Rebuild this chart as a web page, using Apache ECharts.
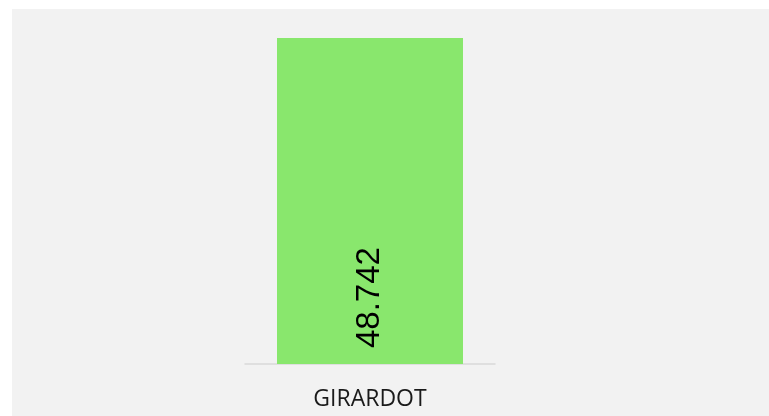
<!DOCTYPE html>
<html>
<head>
<meta charset="utf-8">
<script src="https://cdn.jsdelivr.net/npm/echarts@6/dist/echarts.min.js"></script>
<style>
  html, body { margin: 0; padding: 0; background: #ffffff; }
  #chart { width: 769px; height: 416px; }
</style>
</head>
<body>
<div id="chart"></div>
<script>
// Population by municipality (thousands)
const categories = ['GIRARDOT'];
const values = [48.742];

const chart = echarts.init(document.getElementById('chart'), null, { renderer: 'canvas' });

chart.setOption({
  backgroundColor: '#ffffff',
  animation: false,
  graphic: [{
    type: 'rect',
    z: -10,
    silent: true,
    shape: { x: 12, y: 9, width: 757, height: 407 },
    style: { fill: '#f2f2f2' }
  }],
  grid: { left: 245, right: 274, top: 38, bottom: 52, containLabel: false },
  xAxis: {
    type: 'category',
    data: categories,
    axisLine: { show: true, lineStyle: { color: '#d9d9d9', width: 1.5 } },
    axisTick: { show: false },
    axisLabel: {
      color: '#1a1a1a',
      fontFamily: 'Open Sans',
      fontSize: 23,
      margin: 24
    }
  },
  yAxis: {
    type: 'value',
    min: 0,
    max: 48.742,
    show: false,
    splitLine: { show: false }
  },
  series: [{
    type: 'bar',
    data: values,
    barWidth: '74.4%',
    itemStyle: { color: '#89e76d' },
    label: {
      show: true,
      position: 'insideBottom',
      distance: 16,
      rotate: 90,
      align: 'left',
      verticalAlign: 'middle',
      color: '#000000',
      fontFamily: 'Liberation Sans',
      fontSize: 33,
      formatter: (p) => p.value.toFixed(3)
    }
  }]
});
</script>
</body>
</html>
